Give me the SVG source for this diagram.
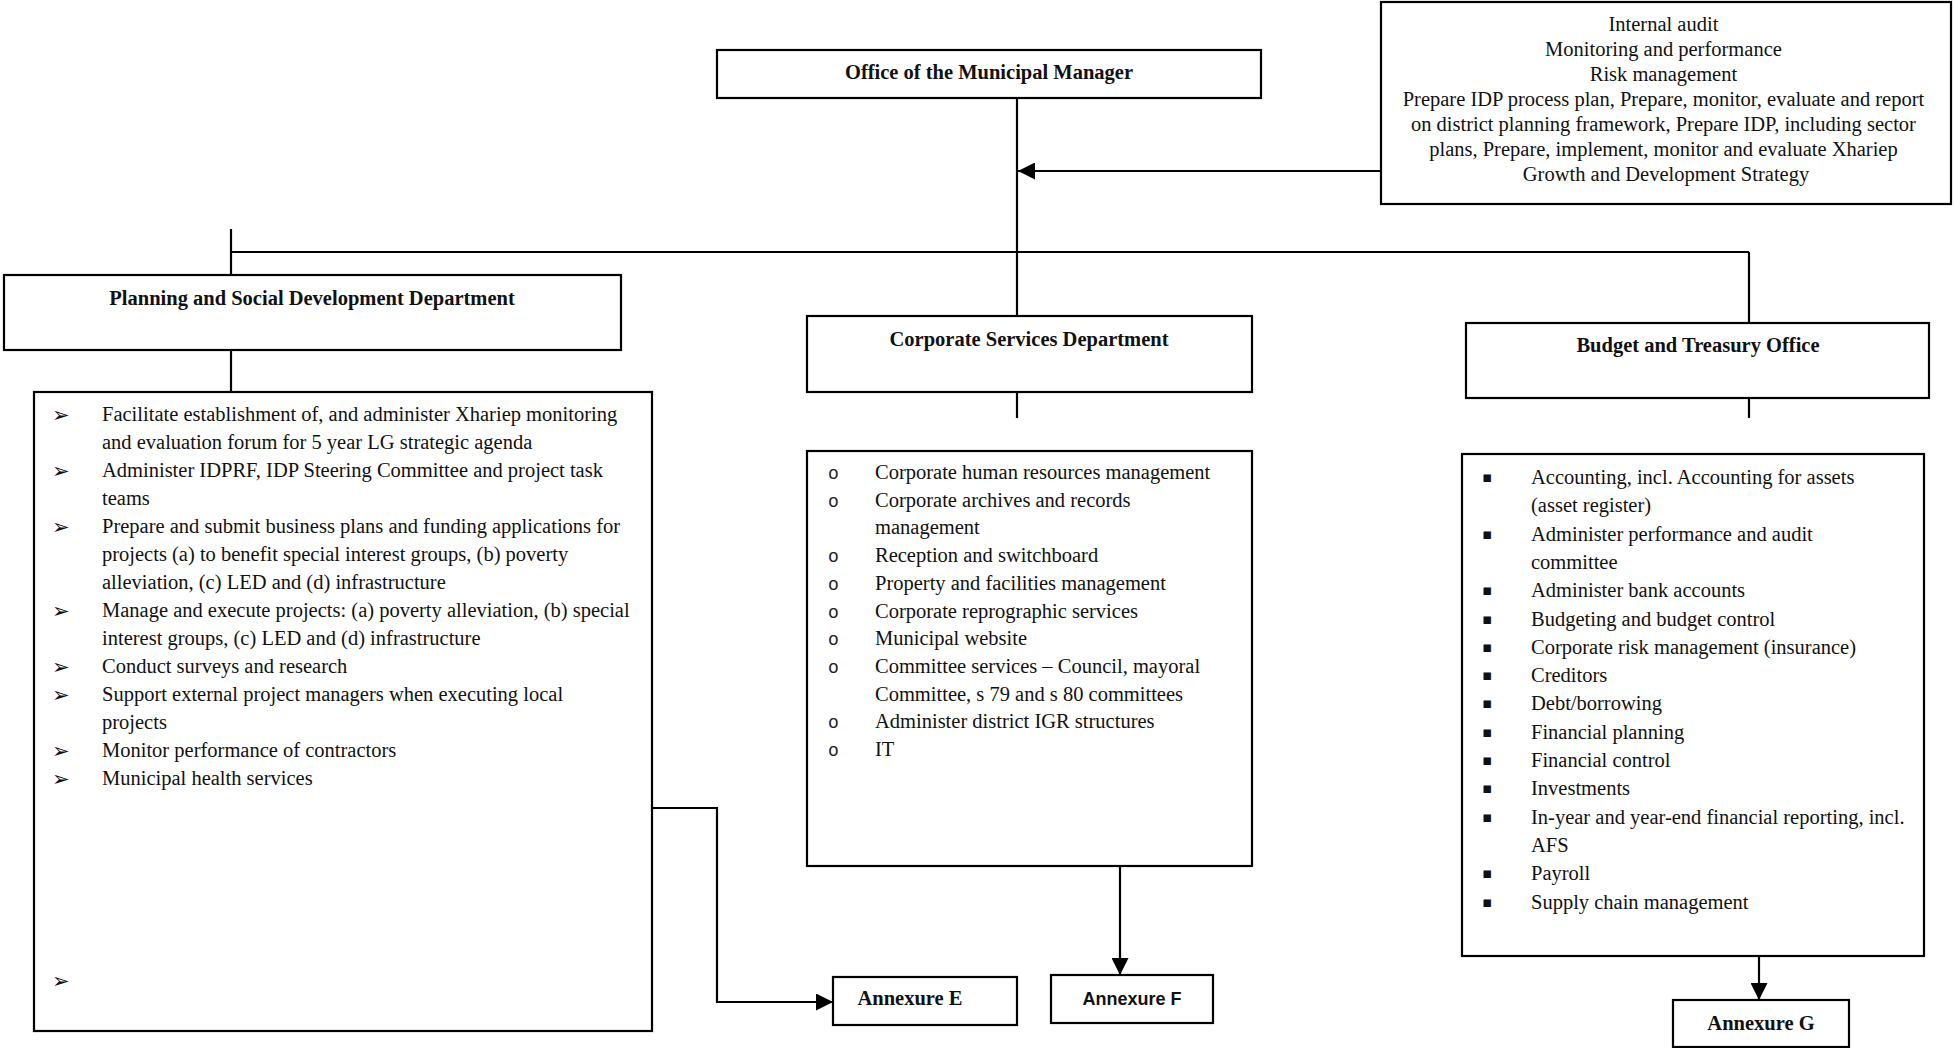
<svg xmlns="http://www.w3.org/2000/svg" width="1955" height="1048" viewBox="0 0 1955 1048">
  <style>
    .box { fill: #ffffff; stroke: #000000; stroke-width: 2.2; }
    .wire { fill: none; stroke: #000000; stroke-width: 2.2; }
    .t { font-family: "Liberation Serif", "Times New Roman", serif; font-size: 20.5px; fill: #111111; }
    .h { font-family: "Liberation Serif", "Times New Roman", serif; font-size: 20.5px; font-weight: bold; fill: #111111; text-anchor: middle; }
    .c { text-anchor: middle; }
    .sans { font-family: "Liberation Sans", Arial, sans-serif; font-size: 18px; font-weight: bold; fill: #111111; text-anchor: middle; }
    .arrowb { font-family: "DejaVu Sans", sans-serif; font-size: 21px; fill: #111111; }
    .ob { font-family: "Liberation Mono", "Courier New", monospace; font-size: 18px; fill: #222222; }
    .sq { font-family: "DejaVu Sans", sans-serif; font-size: 15px; fill: #111111; }
  </style>
  <defs>
    <marker id="head" viewBox="0 0 16 16" refX="16" refY="8" markerWidth="17" markerHeight="17" markerUnits="userSpaceOnUse" orient="auto">
      <path d="M0,0 L16,8 L0,16 z" fill="#000000"/>
    </marker>
  </defs>

  <rect x="0" y="0" width="1955" height="1048" fill="#ffffff"/>

  <!-- connectors -->
  <g id="connectors">
    <!-- trunk from the Municipal Manager down to Corporate Services -->
    <line class="wire" x1="1017" y1="98" x2="1017" y2="316"/>
    <!-- support functions feeding the trunk -->
    <line class="wire" x1="1381" y1="171" x2="1018" y2="171" marker-end="url(#head)"/>
    <!-- horizontal bus -->
    <line class="wire" x1="231" y1="252" x2="1749" y2="252"/>
    <line class="wire" x1="231" y1="229" x2="231" y2="283"/>
    <line class="wire" x1="1749" y1="252" x2="1749" y2="323"/>
    <!-- department header to function list -->
    <line class="wire" x1="231" y1="350" x2="231" y2="392"/>
    <line class="wire" x1="1017" y1="361" x2="1017" y2="418"/>
    <line class="wire" x1="1749" y1="361" x2="1749" y2="418"/>
    <!-- function lists to annexures -->
    <polyline class="wire" points="652,808 717,808 717,1002 833,1002" marker-end="url(#head)"/>
    <line class="wire" x1="1120" y1="833" x2="1120" y2="975" marker-end="url(#head)"/>
    <line class="wire" x1="1759" y1="956" x2="1759" y2="1000" marker-end="url(#head)"/>
  </g>

  <!-- Office of the Municipal Manager -->
  <g id="office-mm">
    <rect class="box" x="717" y="50" width="544" height="48"/>
    <text class="h" x="989" y="79">Office of the Municipal Manager</text>
  </g>

  <!-- Support functions reporting to the Municipal Manager -->
  <g id="mm-functions">
    <rect class="box" x="1381" y="2" width="570" height="202"/>
    <text class="t c" x="1666">
      <tspan x="1666" y="31">Internal audit</tspan>
      <tspan x="1666" y="56">Monitoring and performance</tspan>
      <tspan x="1666" y="81">Risk management</tspan>
      <tspan x="1666" y="106">Prepare IDP process plan, Prepare, monitor, evaluate and report</tspan>
      <tspan x="1666" y="131">on district planning framework, Prepare IDP, including sector</tspan>
      <tspan x="1666" y="156">plans, Prepare, implement, monitor and evaluate Xhariep</tspan>
      <tspan x="1666" y="181">Growth and Development Strategy</tspan>
    </text>
  </g>

  <!-- Planning and Social Development Department -->
  <g id="planning-dept">
    <rect class="box" x="4" y="275" width="617" height="75"/>
    <text class="h" x="312" y="305">Planning and Social Development Department</text>
  </g>

  <g id="planning-functions">
    <rect class="box" x="34" y="392" width="618" height="639"/>
    <g class="arrowb">
      <text x="52" y="422">➢</text>
      <text x="52" y="478">➢</text>
      <text x="52" y="534">➢</text>
      <text x="52" y="618">➢</text>
      <text x="52" y="674">➢</text>
      <text x="52" y="702">➢</text>
      <text x="52" y="758">➢</text>
      <text x="52" y="786">➢</text>
      <text x="52" y="988">➢</text>
    </g>
    <text class="t">
      <tspan x="102" y="421">Facilitate establishment of, and administer Xhariep monitoring</tspan>
      <tspan x="102" y="449">and evaluation forum for 5 year LG strategic agenda</tspan>
      <tspan x="102" y="477">Administer IDPRF, IDP Steering Committee and project task</tspan>
      <tspan x="102" y="505">teams</tspan>
      <tspan x="102" y="533">Prepare and submit business plans and funding applications for</tspan>
      <tspan x="102" y="561">projects (a) to benefit special interest groups, (b) poverty</tspan>
      <tspan x="102" y="589">alleviation, (c) LED and (d) infrastructure</tspan>
      <tspan x="102" y="617">Manage and execute projects: (a) poverty alleviation, (b) special</tspan>
      <tspan x="102" y="645">interest groups, (c) LED and (d) infrastructure</tspan>
      <tspan x="102" y="673">Conduct surveys and research</tspan>
      <tspan x="102" y="701">Support external project managers when executing local</tspan>
      <tspan x="102" y="729">projects</tspan>
      <tspan x="102" y="757">Monitor performance of contractors</tspan>
      <tspan x="102" y="785">Municipal health services</tspan>
    </text>
  </g>

  <!-- Corporate Services Department -->
  <g id="corporate-dept">
    <rect class="box" x="807" y="316" width="445" height="76"/>
    <text class="h" x="1029" y="346">Corporate Services Department</text>
  </g>

  <g id="corporate-functions">
    <rect class="box" x="807" y="451" width="445" height="415"/>
    <g class="ob">
      <text x="828" y="479">o</text>
      <text x="828" y="506.7">o</text>
      <text x="828" y="562.1">o</text>
      <text x="828" y="589.8">o</text>
      <text x="828" y="617.5">o</text>
      <text x="828" y="645.2">o</text>
      <text x="828" y="672.9">o</text>
      <text x="828" y="728.3">o</text>
      <text x="828" y="756">o</text>
    </g>
    <text class="t">
      <tspan x="875" y="479">Corporate human resources management</tspan>
      <tspan x="875" y="506.7">Corporate archives and records</tspan>
      <tspan x="875" y="534.4">management</tspan>
      <tspan x="875" y="562.1">Reception and switchboard</tspan>
      <tspan x="875" y="589.8">Property and facilities management</tspan>
      <tspan x="875" y="617.5">Corporate reprographic services</tspan>
      <tspan x="875" y="645.2">Municipal website</tspan>
      <tspan x="875" y="672.9">Committee services – Council, mayoral</tspan>
      <tspan x="875" y="700.6">Committee, s 79 and s 80 committees</tspan>
      <tspan x="875" y="728.3">Administer district IGR structures</tspan>
      <tspan x="875" y="756">IT</tspan>
    </text>
  </g>

  <!-- Budget and Treasury Office -->
  <g id="budget-office">
    <rect class="box" x="1466" y="323" width="463" height="75"/>
    <text class="h" x="1698" y="352">Budget and Treasury Office</text>
  </g>

  <g id="budget-functions">
    <rect class="box" x="1462" y="454" width="462" height="502"/>
    <g class="sq">
      <text x="1482" y="482">▪</text>
      <text x="1482" y="538.6">▪</text>
      <text x="1482" y="595.2">▪</text>
      <text x="1482" y="623.5">▪</text>
      <text x="1482" y="651.8">▪</text>
      <text x="1482" y="680.1">▪</text>
      <text x="1482" y="708.4">▪</text>
      <text x="1482" y="736.7">▪</text>
      <text x="1482" y="765">▪</text>
      <text x="1482" y="793.3">▪</text>
      <text x="1482" y="821.6">▪</text>
      <text x="1482" y="878.2">▪</text>
      <text x="1482" y="906.5">▪</text>
    </g>
    <text class="t">
      <tspan x="1531" y="484">Accounting, incl. Accounting for assets</tspan>
      <tspan x="1531" y="512.3">(asset register)</tspan>
      <tspan x="1531" y="540.6">Administer performance and audit</tspan>
      <tspan x="1531" y="568.9">committee</tspan>
      <tspan x="1531" y="597.2">Administer bank accounts</tspan>
      <tspan x="1531" y="625.5">Budgeting and budget control</tspan>
      <tspan x="1531" y="653.8">Corporate risk management (insurance)</tspan>
      <tspan x="1531" y="682.1">Creditors</tspan>
      <tspan x="1531" y="710.4">Debt/borrowing</tspan>
      <tspan x="1531" y="738.7">Financial planning</tspan>
      <tspan x="1531" y="767">Financial control</tspan>
      <tspan x="1531" y="795.3">Investments</tspan>
      <tspan x="1531" y="823.6">In-year and year-end financial reporting, incl.</tspan>
      <tspan x="1531" y="851.9">AFS</tspan>
      <tspan x="1531" y="880.2">Payroll</tspan>
      <tspan x="1531" y="908.5">Supply chain management</tspan>
    </text>
  </g>

  <!-- Annexures -->
  <g id="annexure-e">
    <rect class="box" x="833" y="977" width="184" height="48"/>
    <text class="h" x="910" y="1005">Annexure E</text>
  </g>
  <g id="annexure-f">
    <rect class="box" x="1051" y="975" width="162" height="48"/>
    <text class="sans" x="1132" y="1005">Annexure F</text>
  </g>
  <g id="annexure-g">
    <rect class="box" x="1673" y="1000" width="176" height="47"/>
    <text class="h" x="1761" y="1030">Annexure G</text>
  </g>
</svg>
